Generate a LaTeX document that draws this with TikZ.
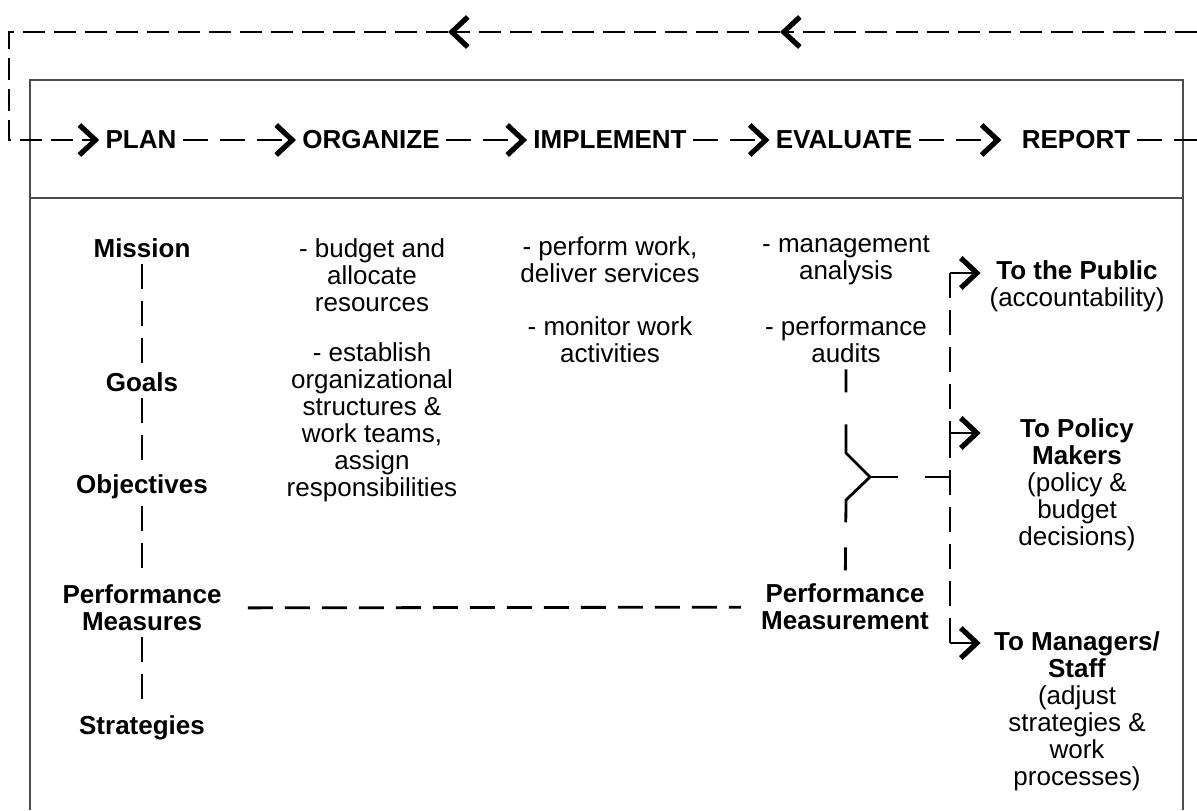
\documentclass[tikz,border=0pt]{standalone}
\usepackage{fontspec}
\setmainfont{Liberation Sans}
\usetikzlibrary{arrows.meta}

\begin{document}
\begin{tikzpicture}
[x=0.5pt, y=-0.5pt,
every node/.style={font=\fontsize{13}{13.5}\selectfont, inner sep=3pt},
stage/.style={font=\fontsize{13}{13.5}\selectfont\bfseries},
item/.style={align=center},
head/.style={align=center, font=\fontsize{13}{13.5}\selectfont\bfseries},
dest/.style={align=flush center, text width=90pt},
link/.style={line width=1.4pt, dash pattern=on 12.5pt off 6pt},
loop/.style={line width=1.4pt, dash pattern=on 11pt off 4.5pt},
flow/.style={-{Straight Barb[length=8pt,width=15pt,line width=2.6pt 0]}},
frame/.style={draw=black!70, line width=0.8pt},
]
\useasboundingbox (0,0) rectangle (1197,810);

% frame
\draw[frame] (30,810) -- (30,80) -- (1183,80) -- (1183,810);
\draw[frame] (30,198) -- (1183,198);

% cycle
\node[stage] (plan)      at (141,140) {PLAN};
\node[stage] (organize)  at (371,140) {ORGANIZE};
\node[stage] (implement) at (610,140) {IMPLEMENT};
\node[stage] (evaluate)  at (844,140) {EVALUATE};
\node[stage] (report)    at (1076,140) {REPORT};

\draw[link,flow] (plan) -- (organize);
\draw[link,flow] (organize) -- (implement);
\draw[link,flow] (implement) -- (evaluate);
\draw[link,flow,shorten >=7pt] (evaluate) -- (report);

\coordinate (rpR) at (1197,140);
\coordinate (fbR) at (1197,32);
\coordinate (fbA) at (780,32);
\coordinate (fbB) at (448,32);
\coordinate (fbC) at (9,32);
\coordinate (fbD) at (9,140);
\draw[link] (report) -- (rpR);
\draw[loop,flow] (fbR) -- (fbA);
\draw[loop,flow] (fbA) -- (fbB);
\draw[loop,flow] (fbB) -- (fbC) -- (fbD) -- (plan);

% plan column
\node[head] (mission)    at (142,248) {Mission};
\node[head] (goals)      at (142,382) {Goals};
\node[head] (objectives) at (142,487) {Objectives};
\node[head] (pmeasures)  at (142,608) {Performance\\Measures};
\node[head] (strategies) at (142,728) {Strategies};

\draw[link] (mission) -- (goals);
\draw[link] (goals) -- (objectives);
\draw[link] (objectives) -- (pmeasures);
\draw[link] (pmeasures) -- (strategies);

% organize column
\node[item] (budget)    at (372,275) {- budget and\\allocate\\resources};
\node[item] (establish) at (372,422) {- establish\\organizational\\structures \&\\work teams,\\assign\\responsibilities};

% implement column
\node[item] (perform) at (610,260) {- perform work,\\deliver services};
\node[item] (monitor) at (610,340) {- monitor work\\activities};

% evaluate column
\node[item] (analysis) at (846,260) {- management\\analysis};
\node[item] (audits)   at (846,340) {- performance\\audits};
\node[head] (pmeasurement) at (845,607) {Performance\\Measurement};

\coordinate (forkA) at (846,453);
\coordinate (fork)  at (870,477);
\coordinate (forkB) at (846,500);
\draw[link, dash pattern=on 11.5pt off 16pt on 59pt off 12.5pt on 11.5pt off 20pt]
  (audits) -- (forkA) -- (fork) -- (forkB) -- (pmeasurement);
\draw[link, shorten <=10pt, shorten >=7pt] (pmeasures) -- (pmeasurement);

% report column
\node[dest] (public)   at (1077,286) {\textbf{To the Public}\\(accountability)};
\node[dest] (policy)   at (1077,485) {\textbf{To Policy}\\\textbf{Makers}\\(policy \&\\budget\\decisions)};
\node[dest] (managers) at (1077,711) {\textbf{To Managers/}\\\textbf{Staff}\\(adjust\\strategies \&\\work\\processes)};

\coordinate (rTop) at (950,273);
\coordinate (rMid) at (950,433);
\coordinate (rBot) at (950,643);
\draw[link] (rTop) -- (rMid);
\draw[link] (rBot) -- (rMid);
\draw[link, dash pattern=on 14pt off 13.5pt on 14pt] (fork) -- (fork -| rTop);
\draw[link,flow] (rTop) -- (public.west |- rTop);
\draw[link,flow] (rMid) -- (policy.west |- rMid);
\draw[link,flow] (rBot) -- (managers.west |- rBot);
\end{tikzpicture}
\end{document}
